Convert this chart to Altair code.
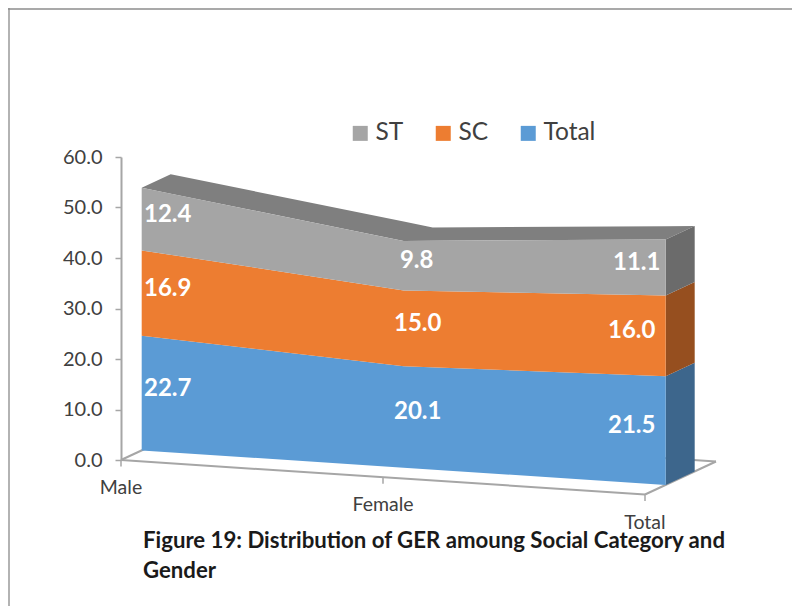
import altair as alt
import numpy as np
import pandas as pd

categories = ["Male", "Female", "Total"]
series_names = ["Total", "SC", "ST"]
total_values = [22.7, 20.1, 21.5]
sc_values = [16.9, 15.0, 16.0]
st_values = [12.4, 9.8, 11.1]
y_ticks = [0, 10, 20, 30, 40, 50, 60]
title_lines = [
    "Figure 19: Distribution of GER amoung Social Category and",
    "Gender",
]

# colours: front, side
FRONT = {"Total": "#5b9bd5", "SC": "#ed7d31", "ST": "#a5a5a5"}
SIDE = {"Total": "#3d668c", "SC": "#964f1f", "ST": "#6b6b6b"}
TOP = "#7f7f7f"
LINE = "#a6a6a6"
TEXT = "#404040"
FONT = "Lato"

# oblique projection of the 3-D chart, in axis units
PLOT_W, PLOT_H = 524, 303
PX_X = PLOT_W / 2      # px per category
PX_Y = PLOT_H / 60     # px per value unit
FLOOR_DX = 71 / PX_X   # floor depth, x
FLOOR_DY = 33 / PX_Y   # floor depth, y
TILT = 17.25 / PX_Y    # drop of the front edge per category
D0, D1 = 0.2915, 0.70  # depth of the front and back of the stack


def proj(i, d, v):
    return i + FLOOR_DX * d, v - TILT * i + FLOOR_DY * d


values = {"Total": total_values, "SC": sc_values, "ST": st_values}
bottoms = {}
tops = {}
run = [0.0, 0.0, 0.0]
for s in series_names:
    bottoms[s] = list(run)
    run = [a + b for a, b in zip(run, values[s])]
    tops[s] = list(run)

# front faces
front_rows = []
for s in series_names:
    for i in range(3):
        x, y = proj(i, D0, bottoms[s][i])
        _, y2 = proj(i, D0, tops[s][i])
        front_rows.append({"series": s, "x": x, "y": y, "y2": y2})
front_df = pd.DataFrame(front_rows)

# floor outline
corners = [(0, 0), (2, 0), (2, 1), (0, 1), (0, 0)]
floor_rows = []
for e in range(4):
    for (i, d) in (corners[e], corners[e + 1]):
        x, y = proj(i, d, 0)
        floor_rows.append({"edge": e, "n": len(floor_rows), "x": x, "y": y})
floor_df = pd.DataFrame(floor_rows)

x_enc = alt.X("x:Q", axis=None, scale=alt.Scale(domain=[0, 2], nice=False, zero=False))
y_enc = alt.Y(
    "y:Q",
    title=None,
    scale=alt.Scale(domain=[0, 60], nice=False, zero=False),
    axis=alt.Axis(
        values=y_ticks, format=".1f", grid=False, domainColor=LINE, domainWidth=2,
        tickColor=LINE, tickWidth=1.5, tickSize=6, labelPadding=13,
        labelColor=TEXT, labelFont=FONT, labelFontSize=20,
    ),
)

floor = alt.Chart(floor_df).mark_line(color=LINE, strokeWidth=2).encode(
    x=x_enc, y=y_enc, detail="edge:N", order="n:Q"
)

# right side faces
side_layers = []
for s in series_names:
    rows = []
    for d in (D0, D1):
        x, y = proj(2, d, bottoms[s][2])
        _, y2 = proj(2, d, tops[s][2])
        rows.append({"x": x, "y": y, "y2": y2})
    side_layers.append(
        alt.Chart(pd.DataFrame(rows)).mark_area(color=SIDE[s], orient="vertical").encode(
            x="x:Q", y="y:Q", y2="y2:Q"
        )
    )

# top face of the stack
front_chain = [proj(0, D0, tops["ST"][0]), proj(1, D0, tops["ST"][1]), proj(2, D0, tops["ST"][2]), proj(2, D1, tops["ST"][2])]
back_chain = [proj(0, D0, tops["ST"][0]), proj(0, D1, tops["ST"][0]), proj(1, D1, tops["ST"][1]), proj(2, D1, tops["ST"][2])]
xs = sorted({p[0] for p in front_chain + back_chain})
top_df = pd.DataFrame({
    "x": xs,
    "y": np.interp(xs, [p[0] for p in front_chain], [p[1] for p in front_chain]),
    "y2": np.interp(xs, [p[0] for p in back_chain], [p[1] for p in back_chain]),
})

# category ticks and labels
tick_rows = []
for i, c in enumerate(categories):
    x, y = proj(i, 0, 0)
    tick_rows.append({"cat": c, "x": x, "y": y, "y2": y - 6.5 / PX_Y})
tick_df = pd.DataFrame(tick_rows)

# value labels
LABEL_DX = {
    "Total": [26, 14, -34],
    "SC": [26, 14, -34],
    "ST": [26, 13, -29],
}
label_rows = []
for s in series_names:
    for i in range(3):
        x, y = proj(i, D0, (bottoms[s][i] + tops[s][i]) / 2)
        label_rows.append({
            "x": x + LABEL_DX[s][i] / PX_X,
            "y": y,
            "label": f"{values[s][i]:.1f}",
        })
label_df = pd.DataFrame(label_rows)

ticks = alt.Chart(tick_df).mark_rule(color=LINE, strokeWidth=1.5).encode(x="x:Q", y="y:Q", y2="y2:Q")
top_face = alt.Chart(top_df).mark_area(color=TOP, orient="vertical").encode(x="x:Q", y="y:Q", y2="y2:Q")
front = alt.Chart(front_df).mark_area(orient="vertical", opacity=1).encode(
    x="x:Q",
    y="y:Q",
    y2="y2:Q",
    color=alt.Color(
        "series:N",
        sort=["ST", "SC", "Total"],
        scale=alt.Scale(domain=["ST", "SC", "Total"], range=[FRONT["ST"], FRONT["SC"], FRONT["Total"]]),
        legend=alt.Legend(
            title=None, orient="none", legendX=227, legendY=-36, direction="horizontal",
            symbolType="square", symbolSize=225, symbolStrokeWidth=0, symbolOpacity=1,
            labelFont=FONT, labelFontSize=24.5, labelColor=TEXT, labelOffset=3,
            columnPadding=27, columns=3,
        ),
    ),
)
labels = alt.Chart(label_df).mark_text(
    color="white", font=FONT, fontWeight="bold", fontSize=24, dy=-4.5, align="center", baseline="middle"
).encode(x="x:Q", y="y:Q", text="label:N")
cat_labels = alt.Chart(tick_df).mark_text(
    color=TEXT, font=FONT, fontSize=19.5, dy=28, align="center", baseline="middle"
).encode(x="x:Q", y="y:Q", text="cat:N")

caption1 = alt.Chart(pd.DataFrame({"t": [title_lines[0]]})).mark_text(
    color="#1a1a1a", font=FONT, fontWeight="bold", fontSize=22.2, align="left", baseline="middle"
).encode(x=alt.value(22), y=alt.value(384), text="t:N")
caption2 = alt.Chart(pd.DataFrame({"t": [title_lines[1]]})).mark_text(
    color="#1a1a1a", font=FONT, fontWeight="bold", fontSize=22.2, align="left", baseline="middle"
).encode(x=alt.value(22), y=alt.value(414), text="t:N")

frame_left = alt.Chart(pd.DataFrame({"k": [0]})).mark_rule(color="#9a9a9a", strokeWidth=1.5).encode(
    x=alt.value(-112), y=alt.value(-149), y2=alt.value(449)
)
frame_top = alt.Chart(pd.DataFrame({"k": [0]})).mark_rule(color="#8c8c8c", strokeWidth=1.5).encode(
    x=alt.value(-113), x2=alt.value(671), y=alt.value(-148)
)

chart = alt.layer(
    floor, frame_left, frame_top, ticks, top_face, *side_layers, front, labels, cat_labels, caption1, caption2
).properties(
    width=PLOT_W,
    height=PLOT_H,
    padding={"left": 113, "top": 149, "right": 147, "bottom": 146},
    autosize=alt.AutoSizeParams(type="none"),
    background="white",
).configure_view(stroke=None)

chart.save("out.html", embed_options={"renderer": "svg", "actions": False})
